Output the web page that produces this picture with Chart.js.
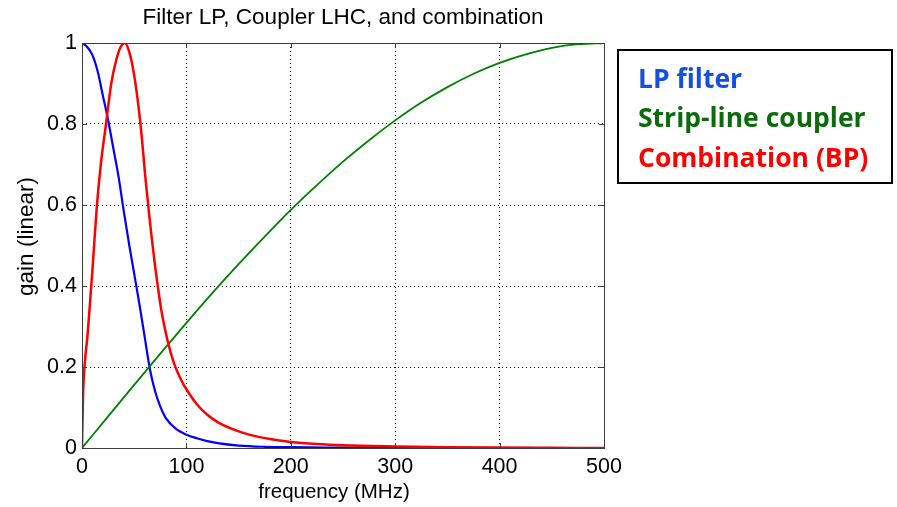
<!DOCTYPE html>
<html>
<head>
<meta charset="utf-8">
<title>Filter LP, Coupler LHC, and combination</title>
<script src="https://cdn.jsdelivr.net/npm/chart.js@4/dist/chart.umd.min.js"></script>
<style>
    body { margin: 0; background: #fff; }
    .contenedor { position: relative; width: 897px; height: 507px; }
    .leyenda {
        position: absolute; left: 617px; top: 49px; width: 272px; height: 131px;
        border: 2px solid #000; font-family: "Open Sans", sans-serif; font-weight: bold; font-size: 26.5px; line-height: 1;
    }
    .leyenda div { position: absolute; left: 19px; white-space: nowrap; }
</style>
</head>
<body>
<div class="contenedor">
    <canvas id="grafico" width="897" height="507"></canvas>
    <div class="leyenda">
        <div style="top: 14px; color: #1450dc;">LP filter</div>
        <div style="top: 53px; color: #0b6b0b;">Strip-line coupler</div>
        <div style="top: 93px; color: #ff0000;">Combination (BP)</div>
    </div>
</div>
<script>
// valores
const freqLP = [0, 5, 10, 15, 20, 25, 30, 35, 40, 45, 50, 55, 60, 65, 70, 75, 80, 90, 100, 110, 120, 130, 150, 175, 200, 250, 300, 400, 500];
const gainLP = [1.0, 0.99, 0.97, 0.93, 0.87, 0.81, 0.74, 0.67, 0.585, 0.505, 0.43, 0.355, 0.275, 0.195, 0.14, 0.102, 0.075, 0.047, 0.033, 0.024, 0.017, 0.012, 0.006, 0.003, 0.002, 0.001, 0, 0, 0];

const freqCoupler = [0, 25, 50, 75, 100, 125, 150, 175, 200, 225, 250, 275, 300, 325, 350, 375, 400, 425, 450, 475, 500];
const gainCoupler = [0, 0.078, 0.156, 0.233, 0.309, 0.383, 0.454, 0.522, 0.588, 0.649, 0.707, 0.760, 0.809, 0.853, 0.891, 0.924, 0.951, 0.972, 0.988, 0.997, 1.0];

const freqBP = [0, 1, 3, 5, 8, 10, 14, 18, 23, 28, 33, 37, 41, 45, 50, 56, 61, 65, 70, 76, 82, 88, 95, 100, 110, 120, 130, 145, 160, 180, 200, 225, 250, 300, 350, 400, 450, 500];
const gainBP = [0, 0.13, 0.22, 0.27, 0.37, 0.44, 0.59, 0.70, 0.80, 0.90, 0.96, 0.99, 1.0, 0.98, 0.92, 0.80, 0.66, 0.56, 0.45, 0.34, 0.265, 0.21, 0.168, 0.145, 0.108, 0.082, 0.064, 0.046, 0.033, 0.022, 0.015, 0.01, 0.007, 0.004, 0.002, 0.001, 0.0005, 0];

const xTicks = [0, 100, 200, 300, 400, 500];
const yTicks = [0, 0.2, 0.4, 0.6, 0.8, 1];

const tituloX = 'frequency (MHz)';
const tituloY = 'gain (linear)';

function puntos(xs, ys) {
    return xs.map((x, i) => ({ x: x, y: ys[i] }));
}

const fuente = 'Liberation Sans, Arial';

// marco, marcas interiores y titulos de ejes estilo matlab
const marcoPlugin = {
    id: 'marco',
    afterDatasetsDraw(chart) {
        const ctx = chart.ctx;
        const a = chart.chartArea;
        const sx = chart.scales.x;
        const sy = chart.scales.y;
        ctx.save();
        ctx.strokeStyle = '#3c3c3c';
        ctx.lineWidth = 1;
        ctx.beginPath();
        xTicks.forEach(v => {
            const px = Math.round(sx.getPixelForValue(v)) + 0.5;
            ctx.moveTo(px, a.bottom); ctx.lineTo(px, a.bottom - 5);
            ctx.moveTo(px, a.top); ctx.lineTo(px, a.top + 5);
        });
        yTicks.forEach(v => {
            const py = Math.round(sy.getPixelForValue(v)) + 0.5;
            ctx.moveTo(a.left, py); ctx.lineTo(a.left + 5, py);
            ctx.moveTo(a.right, py); ctx.lineTo(a.right - 5, py);
        });
        ctx.stroke();
        ctx.strokeRect(Math.round(a.left) + 0.5, Math.round(a.top) + 0.5, Math.round(a.right - a.left), Math.round(a.bottom - a.top));

        // los titulos de matlab quedan algo corridos respecto al centro
        const cx = (a.left + a.right) / 2 - 9;
        const cy = (a.top + a.bottom) / 2 - 9;
        ctx.fillStyle = '#000';
        ctx.textAlign = 'center';
        ctx.textBaseline = 'middle';
        ctx.font = '20.5px ' + fuente;
        ctx.fillText(tituloX, cx, 492);
        ctx.translate(27, cy);
        ctx.rotate(-Math.PI / 2);
        ctx.font = '22.5px ' + fuente;
        ctx.fillText(tituloY, 0, 0);
        ctx.restore();
    }
};

const ctx = document.getElementById('grafico').getContext('2d');
new Chart(ctx, {
    type: 'line',
    data: {
        datasets: [
            { label: 'Combination (BP)', data: puntos(freqBP, gainBP), borderColor: '#ff0000', borderWidth: 2.5, order: 0 },
            { label: 'Strip-line coupler', data: puntos(freqCoupler, gainCoupler), borderColor: '#008000', borderWidth: 1.8, order: 1 },
            { label: 'LP filter', data: puntos(freqLP, gainLP), borderColor: '#0000ff', borderWidth: 2.2, order: 2 }
        ]
    },
    options: {
        responsive: false,
        animation: false,
        events: [],
        layout: { padding: { left: 0, right: 293, top: 0, bottom: 0 } },
        elements: {
            point: { radius: 0 },
            line: { cubicInterpolationMode: 'monotone', fill: false }
        },
        plugins: {
            legend: { display: false },
            tooltip: { enabled: false },
            title: {
                display: true,
                fullSize: false,
                text: 'Filter LP, Coupler LHC, and combination',
                color: '#000',
                font: { family: fuente, size: 22.5, weight: 'normal', lineHeight: 1.2 },
                padding: { top: 4, bottom: 12 }
            }
        },
        scales: {
            x: {
                type: 'linear',
                min: 0,
                max: 500,
                afterBuildTicks: s => { s.ticks = xTicks.map(v => ({ value: v })); },
                afterFit: s => { s.height = 59; },
                grid: { color: '#000', lineWidth: 1, drawTicks: false },
                border: { display: false, dash: [1, 3] },
                ticks: { color: '#000', padding: 6, font: { family: fuente, size: 21.5 } }
            },
            y: {
                type: 'linear',
                min: 0,
                max: 1,
                afterBuildTicks: s => { s.ticks = yTicks.map(v => ({ value: v })); },
                afterFit: s => { s.width = 82; },
                grid: { color: '#000', lineWidth: 1, drawTicks: false },
                border: { display: false, dash: [1, 3] },
                ticks: { color: '#000', padding: 5, font: { family: fuente, size: 21.5 }, callback: v => String(v) }
            }
        }
    },
    plugins: [marcoPlugin]
});
</script>
</body>
</html>
